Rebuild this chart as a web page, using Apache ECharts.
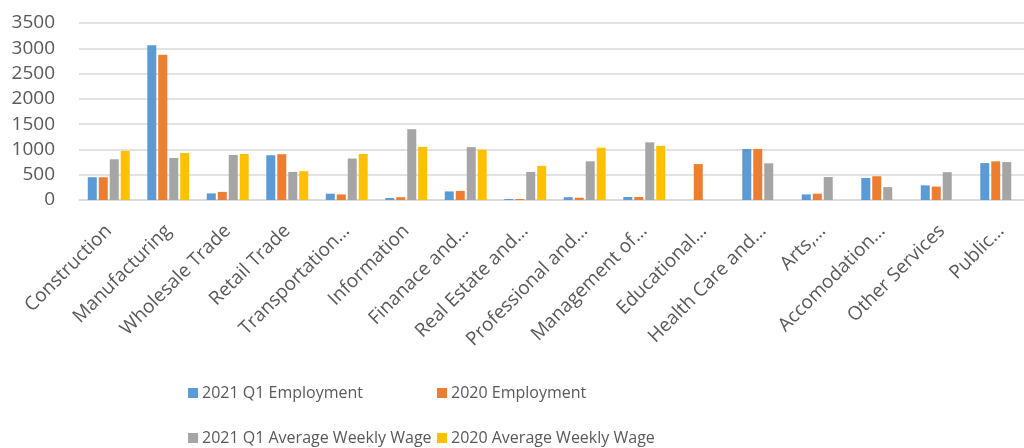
<!DOCTYPE html>
<html><head><meta charset="utf-8">
<script src="https://cdn.jsdelivr.net/npm/echarts@6/dist/echarts.min.js"></script>
<style>html,body{margin:0;padding:0;background:#fff}#c{width:1024px;height:448px}</style>
</head><body><div id="c"></div>
<script>
const categories = ['Construction','Manufacturing','Wholesale Trade','Retail Trade','Transportation…','Information','Finanace and…','Real Estate and…','Professional and…','Management of…','Educational…','Health Care and…','Arts,…','Accomodation…','Other Services','Public…'];
const seriesNames = ['2021 Q1 Employment','2020 Employment','2021 Q1 Average Weekly Wage','2020 Average Weekly Wage'];
const emp2021Q1 = [450, 3060, 130, 885, 125, 40, 170, 20, 55, 60, 0, 1010, 110, 435, 290, 730];
const emp2020   = [450, 2870, 160, 905, 110, 55, 180, 20, 45, 60, 710, 1010, 125, 470, 265, 765];
const wage2021Q1 = [805, 830, 890, 555, 820, 1400, 1045, 555, 765, 1140, 0, 725, 455, 255, 550, 750];
const wage2020   = [970, 930, 910, 570, 910, 1050, 995, 675, 1035, 1070, 0, 0, 0, 0, 0, 0];
const yTicks = {min: 0, max: 3500, interval: 500};

const colors = ['#5B9BD5','#ED7D31','#A5A5A5','#FFC000'];
const dataArr = [emp2021Q1, emp2020, wage2021Q1, wage2020];
const FONT = '"Open Sans", sans-serif';
const TXT = '#595959';

const legendPos = [[188,385],[437,385],[188,430],[437,430]];
const chart = echarts.init(document.getElementById('c'));
chart.setOption({
  animation: false,
  color: colors,
  textStyle: {fontFamily: FONT},
  grid: {left: 79, right: -7, top: 23, bottom: 248, containLabel: false, outerBoundsMode: 'none'},
  legend: seriesNames.map((n, i) => ({
    data: [n], left: legendPos[i][0], top: legendPos[i][1],
    itemWidth: 10, itemHeight: 10, itemGap: 4, icon: 'rect',
    textStyle: {fontSize: 16, color: TXT, fontFamily: FONT, padding: [0,0,0,-1]},
    padding: 0
  })),
  xAxis: {
    type: 'category', data: categories,
    axisTick: {show: false},
    axisLine: {lineStyle: {color: '#d9d9d9', width: 1.5}},
    axisLabel: {rotate: 45, interval: 0, fontSize: 19, color: TXT, fontFamily: FONT, margin: 28}
  },
  yAxis: {
    type: 'value', min: yTicks.min, max: yTicks.max, interval: yTicks.interval,
    axisLine: {show: false}, axisTick: {show: false},
    splitLine: {lineStyle: {color: '#d9d9d9', width: 1.5}},
    axisLabel: {fontSize: 19, color: TXT, fontFamily: FONT, margin: 24, formatter: v => String(v)}
  },
  series: seriesNames.map((n, i) => ({
    name: n, type: 'bar', data: dataArr[i], barWidth: 9, barGap: '22%',
    itemStyle: {color: colors[i]}
  }))
});
</script></body></html>
